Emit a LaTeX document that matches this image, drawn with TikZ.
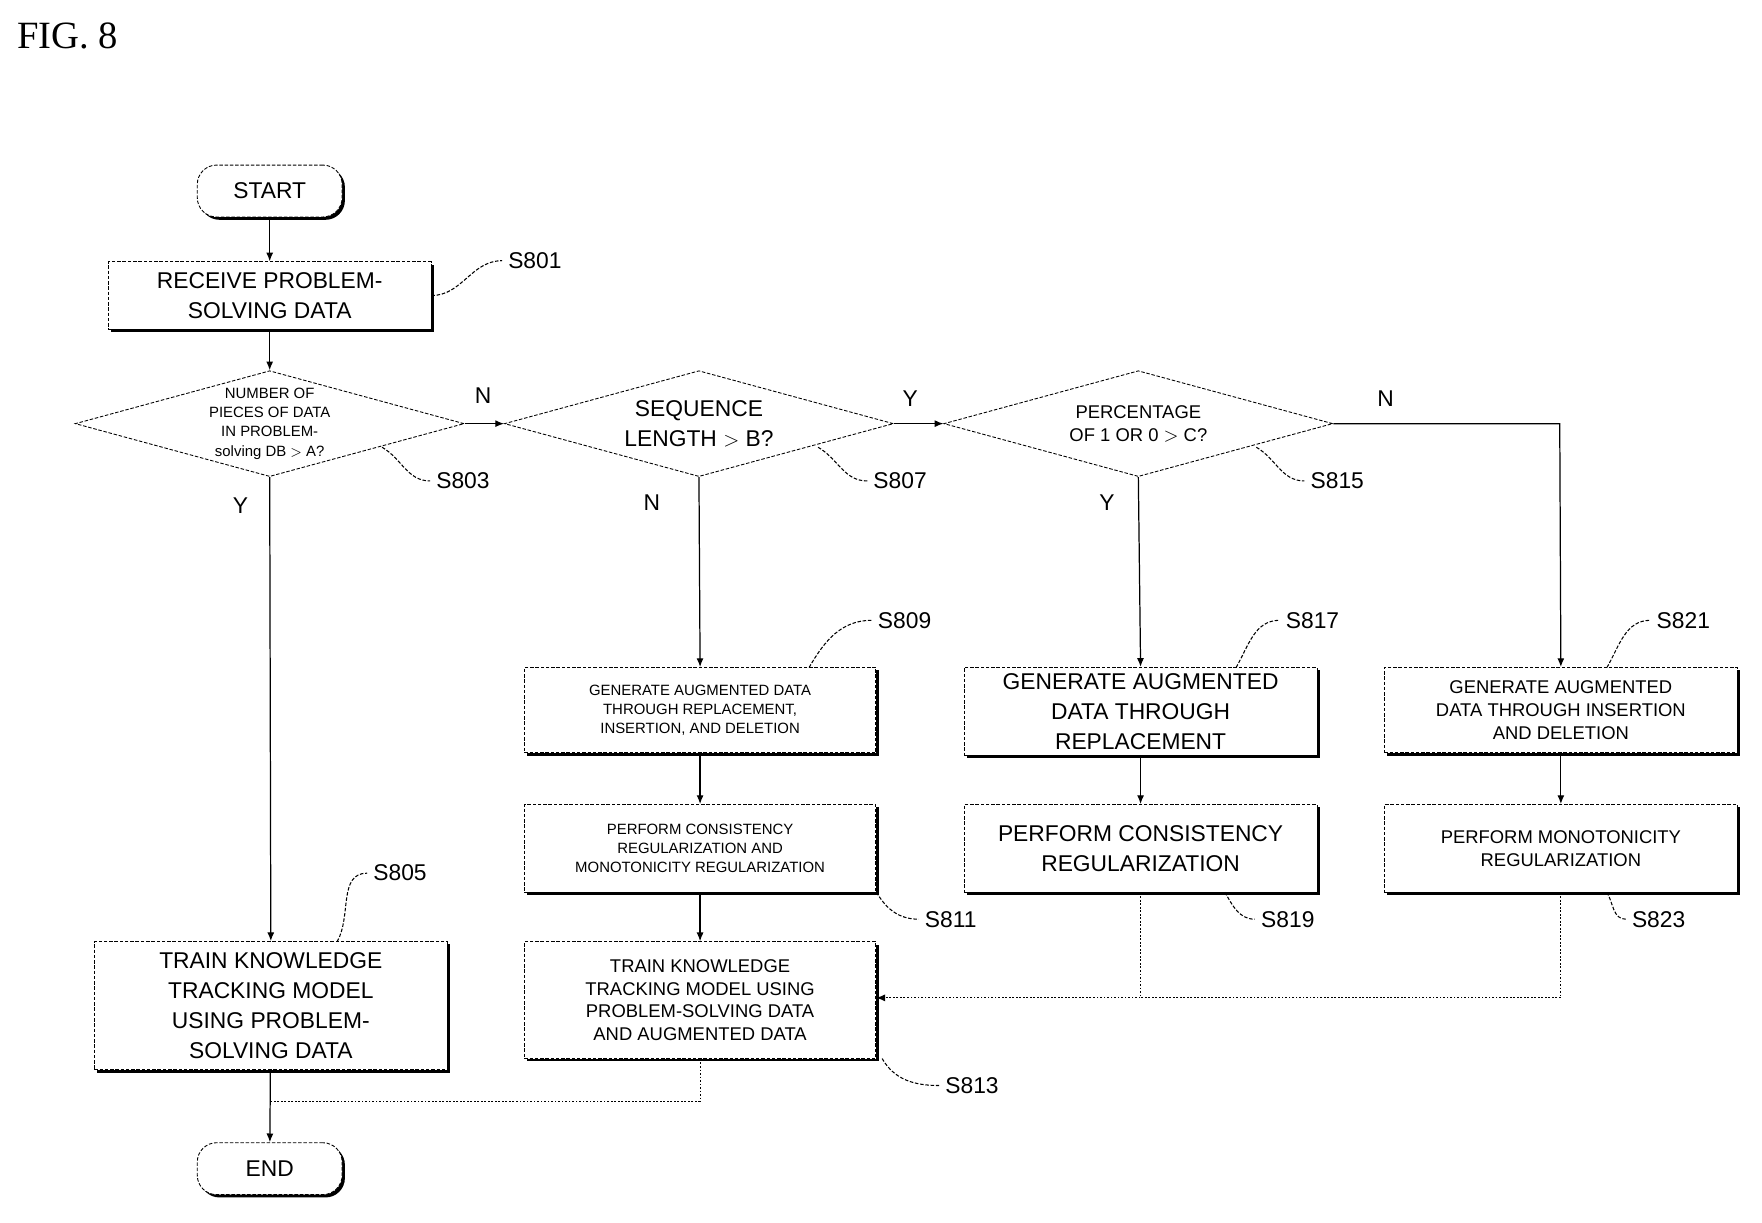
\documentclass[tikz,border=0pt]{standalone}
\usepackage{fontspec}
\setmainfont{Liberation Sans}
\newfontfamily\serifff{Liberation Serif}
\usetikzlibrary{shapes.geometric,shadows,arrows.meta}
\begin{document}
\begin{tikzpicture}[x=0.0225cm,y=-0.0225cm,
  dsh/.style={dash pattern=on 2pt off 1pt, line width=0.5pt},
  box/.style={draw,dsh,fill=white,align=center,inner sep=1pt,
    drop shadow={opacity=1,shadow xshift=1.6pt,shadow yshift=-1.6pt,fill=black}},
  big/.style={font=\fontsize{13}{17}\selectfont},
  med/.style={font=\fontsize{10.5}{13}\selectfont},
  sml/.style={font=\fontsize{8.5}{11}\selectfont},
  term/.style={box,rounded corners=11pt,minimum width=2.9cm,minimum height=1.04cm,big},
  dia/.style={draw,dsh,shape=diamond,minimum width=7.79cm,minimum height=2.12cm,inner sep=0pt,aspect=3.67},
  lab/.style={font=\fontsize{13}{15}\selectfont},
  yn/.style={font=\fontsize{13}{15}\selectfont},
  arr/.style={line width=0.7pt,-{Latex[length=5pt,width=4pt]}},
  ln/.style={line width=0.7pt},
  dl/.style={line width=0.6pt,dash pattern=on 1pt off 1pt},
  sq/.style={dsh,line width=0.6pt}]
\useasboundingbox (0,0) rectangle (1568,1088);
\node[anchor=west,font=\serifff\fontsize{22}{24}\selectfont] (fig) at (10,32) {FIG. 8};

\node[term] (start) at (240,170) {START};
\node[term] (end) at (240,1040) {END};
\node[box,big,minimum width=6.46cm,minimum height=1.35cm] (s801) at (240,263) {RECEIVE PROBLEM-\\SOLVING DATA};

\node[dia] (d3) at (240,377) {};
\node[sml,align=center] (t3) at (240,377) {NUMBER OF\\PIECES OF DATA\\IN PROBLEM-\\solving DB $>$ A?};
\node[dia] (d7) at (622,377) {};
\node[big,align=center] (t7) at (622,377) {SEQUENCE\\LENGTH $>$ B?};
\node[dia] (d15) at (1013,377) {};
\node[med,align=center] (t15) at (1013,377) {PERCENTAGE\\OF 1 OR 0 $>$ C?};

\node[box,big,minimum width=7.07cm,minimum height=2.57cm] (s805) at (241,895) {TRAIN KNOWLEDGE\\TRACKING MODEL\\USING PROBLEM-\\SOLVING DATA};
\node[box,sml,minimum width=7.04cm,minimum height=1.71cm] (s809) at (623,632) {GENERATE AUGMENTED DATA\\THROUGH REPLACEMENT,\\INSERTION, AND DELETION};
\node[box,sml,minimum width=7.04cm,minimum height=1.76cm] (s811) at (623,755) {PERFORM CONSISTENCY\\REGULARIZATION AND\\MONOTONICITY REGULARIZATION};
\node[box,med,minimum width=7.04cm,minimum height=2.34cm] (s813) at (623,890) {TRAIN KNOWLEDGE\\TRACKING MODEL USING\\PROBLEM-SOLVING DATA\\AND AUGMENTED DATA};
\node[box,big,minimum width=7.07cm,minimum height=1.76cm] (s817) at (1015,633) {GENERATE AUGMENTED\\DATA THROUGH\\REPLACEMENT};
\node[box,big,minimum width=7.07cm,minimum height=1.76cm] (s819) at (1015,755) {PERFORM CONSISTENCY\\REGULARIZATION};
\node[box,med,minimum width=7.07cm,minimum height=1.71cm] (s821) at (1389,632) {GENERATE AUGMENTED\\DATA THROUGH INSERTION\\AND DELETION};
\node[box,med,minimum width=7.07cm,minimum height=1.76cm] (s823) at (1389,755) {PERFORM MONOTONICITY\\REGULARIZATION};

% connectors
\draw[arr] (start) -- (s801);
\draw[arr] (s801) -- (d3.north);
\draw[arr] (d3.east) -- (d7.west);
\draw[arr] (d3.south) -- (s805.north);
\draw[arr] (d7.east) -- (d15.west);
\draw[arr] (d7.south) -- (s809.north);
\draw[arr] (d15.south) -- (s817.north);
\coordinate (c1) at (1388,377);
\draw[arr] (d15.east) -- (c1) -- (s821.north);
\draw[arr] (s809) -- (s811);
\draw[arr] (s811) -- (s813);
\draw[arr] (s817) -- (s819);
\draw[arr] (s821) -- (s823);
\coordinate (j1) at (1015,888);
\coordinate (j2) at (1389,888);
\draw[dl] (s823.south) -- (j2) -- (j1);
\draw[dl,-{Latex[length=5pt,width=4pt]}] (s819.south) -- (j1) -- (s813.east |- j1);
\draw[arr] (s805) -- (end);
\coordinate (j3) at (623,980);
\coordinate (j4) at (240,980);
\draw[dl] (s813.south) -- (j3) -- (j4);

% Y/N
\node[yn] (n1) at (430,352) {N};
\node[yn] (y1) at (214,450) {Y};
\node[yn] (y2) at (810,355) {Y};
\node[yn] (n2) at (580,447) {N};
\node[yn] (y3) at (985,447) {Y};
\node[yn] (n3) at (1233,355) {N};

% step labels
\node[lab] (l801) at (476,232) {S801};
\draw[sq] (s801.east) to[out=0,in=180] (l801.west);
\node[lab] (l803) at (412,428) {S803};
\draw[sq] (340,398) to[out=-30,in=180] (l803.west);
\node[lab] (l807) at (801,428) {S807};
\draw[sq] (728,398) to[out=-30,in=180] (l807.west);
\node[lab] (l815) at (1190,428) {S815};
\draw[sq] (1118,398) to[out=-30,in=180] (l815.west);
\node[lab] (l805) at (356,777) {S805};
\draw[sq] (300,838) to[out=60,in=180] (l805.west);
\node[lab] (l809) at (805,552) {S809};
\draw[sq] (720,594) to[out=60,in=180] (l809.west);
\node[lab] (l817) at (1168,552) {S817};
\draw[sq] (1100,594) to[out=60,in=180] (l817.west);
\node[lab] (l821) at (1498,552) {S821};
\draw[sq] (1430,594) to[out=60,in=180] (l821.west);
\node[lab] (l811) at (846,818) {S811};
\draw[sq] (780,794) to[out=-60,in=180] (l811.west);
\node[lab] (l819) at (1146,818) {S819};
\draw[sq] (1090,794) to[out=-60,in=180] (l819.west);
\node[lab] (l823) at (1476,818) {S823};
\draw[sq] (1430,794) to[out=-60,in=180] (l823.west);
\node[lab] (l813) at (865,966) {S813};
\draw[sq] (785,942) to[out=-60,in=180] (l813.west);
\end{tikzpicture}
\end{document}
